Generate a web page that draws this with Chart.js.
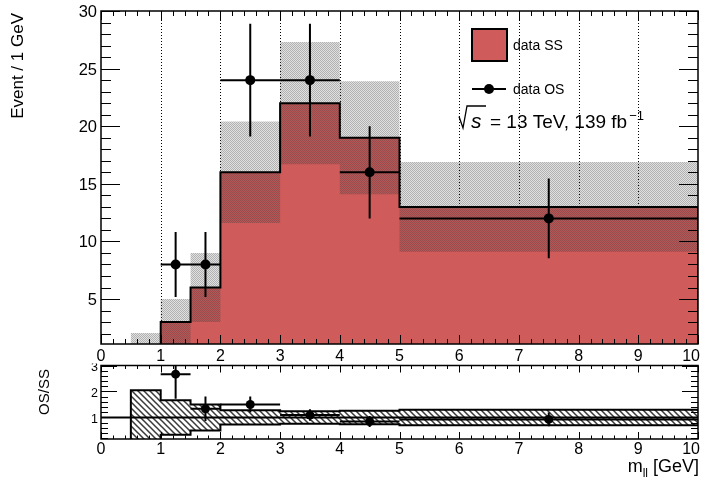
<!DOCTYPE html>
<html>
<head>
<meta charset="utf-8">
<title>m_ll OS / SS</title>
<script src="https://cdn.jsdelivr.net/npm/chart.js@4.4.0/dist/chart.umd.min.js"></script>
<style>
  html, body { margin: 0; padding: 0; background: #fff; }
  #wrap { position: relative; width: 709px; height: 483px; overflow: hidden; background: #fff; }
  #main { position: absolute; left: 0; top: 0; }
  #ratio { position: absolute; left: 0; top: 361px; }
</style>
</head>
<body>
<div id="wrap">
  <canvas id="main" width="709" height="362" style="width:709px;height:362px"></canvas>
  <canvas id="ratio" width="709" height="122" style="width:709px;height:122px"></canvas>
</div>
<script>
// ---- histogram content ----
const binEdges = [0.5, 1, 1.5, 2, 3, 4, 5, 10];
const ssValues = [1, 3, 6, 16, 22, 19, 13];
const ssErrors = [1.05, 2, 3, 4.4, 5.3, 4.9, 3.9];

const osCenters    = [1.25, 1.75, 2.5, 3.5, 4.5, 7.5];
const osHalfWidths = [0.25, 0.25, 0.5, 0.5, 0.5, 2.5];
const osValues     = [8, 8, 24, 24, 16, 12];
const osErrors     = [2.83, 2.83, 4.9, 4.9, 4.0, 3.46];

// ---- axis ticks ----
const xTickValues = [0, 1, 2, 3, 4, 5, 6, 7, 8, 9, 10];
const xTickLabels = ['0', '1', '2', '3', '4', '5', '6', '7', '8', '9', '10'];
const yTickValues = [5, 10, 15, 20, 25, 30];
const yTickLabels = ['5', '10', '15', '20', '25', '30'];
const ratioTickValues = [1, 2, 3];
const ratioTickLabels = ['1', '2', '3'];

const RED = '#cf5b5b';
const FONT = '"Liberation Sans", Arial, Helvetica, sans-serif';

// ---- derived series ----
function stepPoints(values) {
  const pts = values.map((v, i) => ({ x: binEdges[i], y: v }));
  pts.push({ x: binEdges[binEdges.length - 1], y: values[values.length - 1] });
  return pts;
}
// closed outline running along the upper edges and back along the lower ones
function bandOutline(up, down) {
  const pts = [];
  for (let i = 0; i < up.length; i++) {
    pts.push({ x: binEdges[i], y: up[i] }, { x: binEdges[i + 1], y: up[i] });
  }
  for (let i = down.length - 1; i >= 0; i--) {
    pts.push({ x: binEdges[i + 1], y: down[i] }, { x: binEdges[i], y: down[i] });
  }
  return pts;
}
function binOf(x) {
  for (let i = 0; i < binEdges.length - 1; i++) {
    if (x >= binEdges[i] && x < binEdges[i + 1]) return i;
  }
  return -1;
}
const ssUp    = ssValues.map((v, i) => v + ssErrors[i]);
const ssDown  = ssValues.map((v, i) => v - ssErrors[i]);
const ratioUp   = ssValues.map((v, i) => 1 + ssErrors[i] / v);
const ratioDown = ssValues.map((v, i) => 1 - ssErrors[i] / v);
const osRatio    = osCenters.map((c, i) => osValues[i] / ssValues[binOf(c)]);
const osRatioErr = osCenters.map((c, i) => osErrors[i] / ssValues[binOf(c)]);

// ---- fill patterns ----
function makeDotPattern() {
  const c = document.createElement('canvas');
  c.width = 2; c.height = 2;
  const g = c.getContext('2d');
  g.fillStyle = 'rgba(60,60,60,0.40)';
  g.fillRect(0, 0, 1, 1);
  g.fillRect(1, 1, 1, 1);
  g.fillStyle = 'rgba(60,60,60,0.16)';
  g.fillRect(1, 0, 1, 1);
  g.fillRect(0, 1, 1, 1);
  return g.createPattern(c, 'repeat');
}
function makeHatchPattern() {
  const s = 6;
  const c = document.createElement('canvas');
  c.width = s; c.height = s;
  const g = c.getContext('2d');
  g.fillStyle = '#fff';
  g.fillRect(0, 0, s, s);
  g.strokeStyle = '#3a3a3a';
  g.lineWidth = 1.5;
  g.beginPath();
  g.moveTo(-2, -2); g.lineTo(s + 2, s + 2);
  g.moveTo(-2, s - 2); g.lineTo(2, s + 2);
  g.moveTo(s - 2, -2); g.lineTo(s + 2, 2);
  g.stroke();
  return g.createPattern(c, 'repeat');
}
const dots = makeDotPattern();
const hatch = makeHatchPattern();

const hidden = { borderColor: 'rgba(0,0,0,0)', borderWidth: 0, pointRadius: 0 };

// ---- drawing helpers ----
function drawFrame(chart, st) {
  const { ctx, chartArea: a, scales: { x, y } } = chart;
  ctx.save();
  ctx.strokeStyle = '#000';
  ctx.lineWidth = 1;
  ctx.beginPath();
  const nx = Math.round((x.max - x.min) / st.xMinorStep);
  for (let i = 0; i <= nx; i++) {
    const v = x.min + i * st.xMinorStep;
    const major = xTickValues.some(t => Math.abs(t - v) < 1e-6);
    const len = major ? st.xMajorLen : st.xMinorLen;
    const px = Math.round(x.getPixelForValue(v)) + 0.5;
    ctx.moveTo(px, a.bottom); ctx.lineTo(px, a.bottom - len);
    ctx.moveTo(px, a.top); ctx.lineTo(px, a.top + len);
  }
  const k0 = Math.ceil(y.min / st.yMinorStep - 1e-9);
  const k1 = Math.floor(y.max / st.yMinorStep + 1e-9);
  for (let k = k0; k <= k1; k++) {
    const v = k * st.yMinorStep;
    const major = st.yMajors.some(t => Math.abs(t - v) < 1e-6);
    const len = major ? st.yMajorLen : st.yMinorLen;
    const py = Math.round(y.getPixelForValue(v)) + 0.5;
    ctx.moveTo(a.left, py); ctx.lineTo(a.left + len, py);
    ctx.moveTo(a.right, py); ctx.lineTo(a.right - len, py);
  }
  ctx.stroke();
  ctx.lineWidth = 1.5;
  ctx.strokeRect(a.left, a.top, a.right - a.left, a.bottom - a.top);
  ctx.restore();
}

function drawXLabels(chart, baseline, fontPx, rightLimit) {
  const { ctx, scales: { x } } = chart;
  ctx.save();
  ctx.font = fontPx + 'px ' + FONT;
  ctx.fillStyle = '#000';
  ctx.textAlign = 'center';
  ctx.textBaseline = 'alphabetic';
  xTickValues.forEach((v, i) => {
    const w = ctx.measureText(xTickLabels[i]).width;
    const px = Math.min(x.getPixelForValue(v), rightLimit - w / 2);
    ctx.fillText(xTickLabels[i], px, baseline);
  });
  ctx.restore();
}

function drawYLabels(chart, values, labels, fontPx, rightX, shift, clipTop) {
  const { ctx, scales: { y } } = chart;
  ctx.save();
  if (clipTop !== undefined) {
    ctx.beginPath();
    ctx.rect(0, clipTop, chart.width, chart.height - clipTop);
    ctx.clip();
  }
  ctx.font = fontPx + 'px ' + FONT;
  ctx.fillStyle = '#000';
  ctx.textAlign = 'right';
  ctx.textBaseline = 'alphabetic';
  values.forEach((v, i) => {
    ctx.fillText(labels[i], rightX, y.getPixelForValue(v) + shift);
  });
  ctx.restore();
}

function drawErrorBars(chart, cx, cy, hw, err) {
  const { ctx, chartArea: a, scales: { x, y } } = chart;
  ctx.save();
  ctx.beginPath();
  ctx.rect(a.left, a.top, a.right - a.left, a.bottom - a.top);
  ctx.clip();
  ctx.strokeStyle = '#000';
  ctx.lineWidth = 2;
  ctx.beginPath();
  cx.forEach((c, i) => {
    const py = y.getPixelForValue(cy[i]);
    ctx.moveTo(x.getPixelForValue(c - hw[i]), py);
    ctx.lineTo(x.getPixelForValue(c + hw[i]), py);
    const px = x.getPixelForValue(c);
    ctx.moveTo(px, y.getPixelForValue(cy[i] - err[i]));
    ctx.lineTo(px, y.getPixelForValue(cy[i] + err[i]));
  });
  ctx.stroke();
  ctx.restore();
}

function drawRotated(ctx, text, x, y, fontPx, align) {
  ctx.save();
  ctx.translate(x, y);
  ctx.rotate(-Math.PI / 2);
  ctx.font = fontPx + 'px ' + FONT;
  ctx.fillStyle = '#000';
  ctx.textAlign = align;
  ctx.textBaseline = 'alphabetic';
  ctx.fillText(text, 0, 0);
  ctx.restore();
}

// ---- upper panel decorations ----
const mainDecor = {
  id: 'mainDecor',
  beforeDatasetsDraw(chart) {
    const { ctx, chartArea: a, scales: { x } } = chart;
    ctx.save();
    ctx.strokeStyle = '#000';
    ctx.lineWidth = 1;
    ctx.setLineDash([1, 2]);
    ctx.beginPath();
    xTickValues.forEach(v => {
      if (v <= x.min || v >= x.max) return;
      const px = Math.round(x.getPixelForValue(v)) + 0.5;
      ctx.moveTo(px, a.top);
      ctx.lineTo(px, a.bottom);
    });
    ctx.stroke();
    ctx.restore();
  },
  afterDatasetsDraw(chart) {
    drawErrorBars(chart, osCenters, osValues, osHalfWidths, osErrors);
  },
  afterDraw(chart) {
    const ctx = chart.ctx;
    drawFrame(chart, {
      xMinorStep: 0.2, xMajorLen: 9, xMinorLen: 5,
      yMajors: yTickValues, yMinorStep: 1, yMajorLen: 19, yMinorLen: 10
    });
    drawXLabels(chart, 360.5, 16, 700);
    drawYLabels(chart, yTickValues, yTickLabels, 16.5, 97, 6);
    drawRotated(ctx, 'Event / 1 GeV', 23.3, 13, 17, 'right');

    // legend
    ctx.save();
    ctx.fillStyle = RED;
    ctx.fillRect(472, 29, 35, 32);
    ctx.strokeStyle = '#000';
    ctx.lineWidth = 2;
    ctx.strokeRect(472, 29, 35, 32);
    ctx.fillStyle = '#000';
    ctx.font = '14px ' + FONT;
    ctx.textAlign = 'left';
    ctx.textBaseline = 'alphabetic';
    ctx.fillText('data SS', 513, 50);
    ctx.beginPath();
    ctx.moveTo(472, 89);
    ctx.lineTo(506, 89);
    ctx.stroke();
    ctx.beginPath();
    ctx.arc(489, 89, 5, 0, 2 * Math.PI);
    ctx.fill();
    ctx.fillText('data OS', 513, 94);

    // centre-of-mass energy and luminosity
    ctx.lineWidth = 1.3;
    ctx.beginPath();
    ctx.moveTo(459, 116.5);
    ctx.lineTo(463, 128);
    ctx.lineTo(467, 106);
    ctx.lineTo(486, 106);
    ctx.stroke();
    ctx.font = 'italic 21px ' + FONT;
    ctx.fillText('s', 471, 128);
    ctx.font = '19px ' + FONT;
    ctx.fillText('= 13 TeV, 139 fb', 490, 128);
    const w = ctx.measureText('= 13 TeV, 139 fb').width;
    ctx.font = '13px ' + FONT;
    ctx.fillText('\u22121', 490 + w + 2, 119.5);
    ctx.restore();
  }
};

// ---- lower panel decorations ----
const ratioDecor = {
  id: 'ratioDecor',
  afterDatasetsDraw(chart) {
    drawErrorBars(chart, osCenters, osRatio, osHalfWidths, osRatioErr);
  },
  afterDraw(chart) {
    const ctx = chart.ctx;
    drawFrame(chart, {
      xMinorStep: 0.2, xMajorLen: 7, xMinorLen: 3.5,
      yMajors: ratioTickValues, yMinorStep: 0.2, yMajorLen: 16, yMinorLen: 7
    });
    drawXLabels(chart, 92.5, 16, 700);
    drawYLabels(chart, ratioTickValues, ratioTickLabels, 12.5, 98, 5.5, 2.5);
    drawRotated(ctx, 'OS/SS', 49, 31, 15, 'center');

    // axis title m_ll [GeV]
    ctx.save();
    ctx.fillStyle = '#000';
    ctx.textBaseline = 'alphabetic';
    ctx.textAlign = 'left';
    ctx.font = '18px ' + FONT;
    const wm = ctx.measureText('m').width;
    const wg = ctx.measureText(' [GeV]').width;
    ctx.font = '12px ' + FONT;
    const wl = ctx.measureText('ll').width;
    const x0 = 699 - (wm + wl + wg);
    const base = 111;
    ctx.font = '18px ' + FONT;
    ctx.fillText('m', x0, base);
    ctx.font = '12px ' + FONT;
    ctx.fillText('ll', x0 + wm, base + 5);
    ctx.font = '18px ' + FONT;
    ctx.fillText(' [GeV]', x0 + wm + wl, base);
    ctx.restore();
  }
};

const common = {
  responsive: false,
  animation: false,
  events: [],
  plugins: { legend: { display: false }, tooltip: { enabled: false } }
};

// ---- upper panel: SS histogram with uncertainty band and OS data ----
// datasets are listed from front to back
new Chart(document.getElementById('main'), {
  type: 'line',
  data: {
    datasets: [
      { label: 'data OS', data: osCenters.map((c, i) => ({ x: c, y: osValues[i] })),
        showLine: false, fill: false, pointRadius: 5, pointBackgroundColor: '#000',
        pointBorderWidth: 0, backgroundColor: '#000' },
      { label: 'data SS', data: [{ x: binEdges[0], y: 0 }, ...stepPoints(ssValues), { x: binEdges[binEdges.length - 1], y: 0 }],
        stepped: true, borderColor: '#000', borderWidth: 2, pointRadius: 0, fill: false },
      { label: 'SS uncertainty', data: bandOutline(ssUp, ssDown), ...hidden,
        fill: 'shape', backgroundColor: dots },
      { label: 'SS fill', data: stepPoints(ssValues), stepped: true, ...hidden,
        fill: 'origin', backgroundColor: RED }
    ]
  },
  options: {
    ...common,
    layout: { padding: { left: 101, right: 11, top: 11, bottom: 18 } },
    scales: {
      x: { type: 'linear', min: 0, max: 10, display: false },
      y: { type: 'linear', min: 1.1, max: 30, display: false }
    }
  },
  plugins: [mainDecor]
});

// ---- lower panel: OS/SS ratio ----
new Chart(document.getElementById('ratio'), {
  type: 'line',
  data: {
    datasets: [
      { label: 'OS/SS', data: osCenters.map((c, i) => ({ x: c, y: osRatio[i] })),
        showLine: false, fill: false, pointRadius: 4.5, pointBackgroundColor: '#000',
        pointBorderWidth: 0, backgroundColor: '#000' },
      { label: 'unity', data: [{ x: 0, y: 1 }, { x: 10, y: 1 }],
        borderColor: '#000', borderWidth: 2, pointRadius: 0, fill: false },
      { label: 'band top', data: [{ x: binEdges[0], y: ratioDown[0] }, ...stepPoints(ratioUp)],
        stepped: true, borderColor: '#000', borderWidth: 2, pointRadius: 0, fill: false },
      { label: 'band bottom', data: stepPoints(ratioDown),
        stepped: true, borderColor: '#000', borderWidth: 2, pointRadius: 0, fill: false },
      { label: 'SS relative uncertainty', data: bandOutline(ratioUp, ratioDown), ...hidden,
        fill: 'shape', backgroundColor: hatch }
    ]
  },
  options: {
    ...common,
    layout: { padding: { left: 101, right: 11, top: 3, bottom: 44 } },
    scales: {
      x: { type: 'linear', min: 0, max: 10, display: false },
      y: { type: 'linear', min: 0.17, max: 3, display: false }
    }
  },
  plugins: [ratioDecor]
});
</script>
</body>
</html>
